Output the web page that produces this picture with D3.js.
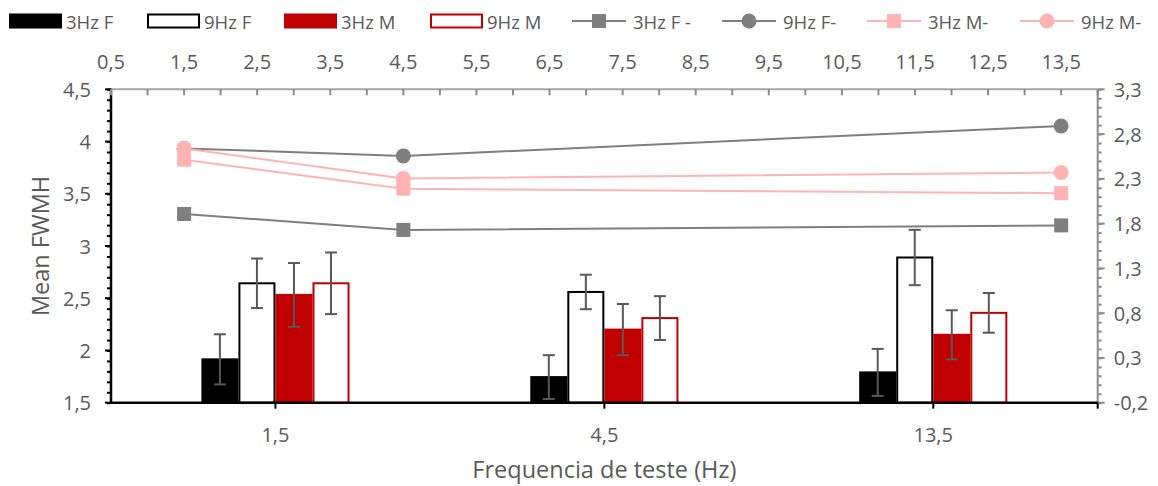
<!DOCTYPE html>
<html>
<head>
<meta charset="utf-8">
<script src="https://cdn.jsdelivr.net/npm/d3@7"></script>
<style>
  body { margin: 0; background: #fff; }
  svg text { font-family: 'Open Sans', sans-serif; fill: #595959; }
</style>
</head>
<body>
<svg id="chart" width="1158" height="486"></svg>
<script>
// ---- data ----
var categories = ['1,5', '4,5', '13,5'];
var freqValues = [1.5, 4.5, 13.5];
var barSeries = ['3Hz F', '9Hz F', '3Hz M', '9Hz M'];

var bar3HzF = [1.915, 1.745, 1.79];
var err3HzF = [0.24, 0.21, 0.225];
var bar9HzF = [2.643, 2.56, 2.89];
var err9HzF = [0.237, 0.165, 0.265];
var bar3HzM = [2.532, 2.20, 2.15];
var err3HzM = [0.305, 0.245, 0.235];
var bar9HzM = [2.643, 2.31, 2.36];
var err9HzM = [0.295, 0.21, 0.19];

var lineSeries = ['3Hz F -', '9Hz F-', '3Hz M-', '9Hz M-'];
var line3HzF = [1.907, 1.73, 1.78];
var line9HzF = [2.64, 2.556, 2.89];
var line3HzM = [2.514, 2.19, 2.14];
var line9HzM = [2.64, 2.305, 2.37];

var leftTicks = [1.5, 2, 2.5, 3, 3.5, 4, 4.5];
var rightTicks = [-0.2, 0.3, 0.8, 1.3, 1.8, 2.3, 2.8, 3.3];
var topTicks = [0.5, 1.5, 2.5, 3.5, 4.5, 5.5, 6.5, 7.5, 8.5, 9.5, 10.5, 11.5, 12.5, 13.5];

// ---- layout ----
var svg = d3.select('#chart');
var plotLeft = 111, plotRight = 1097.7, plotTop = 89.3, plotBottom = 402.7;
var fmt = function(v){ return String(+v.toFixed(1)).replace('.', ','); };

var x0 = d3.scaleBand().domain(categories).range([plotLeft, plotRight]).padding(0);
var x1 = d3.scaleBand().domain(barSeries).range([0, x0.bandwidth()]).paddingInner(0).paddingOuter(2.44);
var xTop = d3.scaleLinear().domain([0.5, 14]).range([plotLeft, plotRight]);
var yLeft = d3.scaleLinear().domain([1.5, 4.5]).range([plotBottom, plotTop]);
var yRight = d3.scaleLinear().domain([-0.2, 3.3]).range([plotBottom, plotTop]);

var barData = [
  { name: '3Hz F', vals: bar3HzF, errs: err3HzF, fill: '#000000', stroke: '#000000' },
  { name: '9Hz F', vals: bar9HzF, errs: err9HzF, fill: '#ffffff', stroke: '#000000' },
  { name: '3Hz M', vals: bar3HzM, errs: err3HzM, fill: '#c00000', stroke: '#c00000' },
  { name: '9Hz M', vals: bar9HzM, errs: err9HzM, fill: '#ffffff', stroke: '#c00000' }
];
var lineData = [
  { name: '3Hz F -', vals: line3HzF, color: '#7f7f7f', marker: 'square' },
  { name: '9Hz F-', vals: line9HzF, color: '#7f7f7f', marker: 'circle' },
  { name: '3Hz M-', vals: line3HzM, color: '#ffb3b3', marker: 'square' },
  { name: '9Hz M-', vals: line9HzM, color: '#ffb3b3', marker: 'circle' }
];

// ---- bars ----
var bars_g = svg.append('g');
barData.forEach(function(s){
  categories.forEach(function(c, i){
    bars_g.append('rect')
      .attr('x', x0(c) + x1(s.name) + 1).attr('y', yLeft(s.vals[i]))
      .attr('width', x1.bandwidth() - 2).attr('height', yLeft(1.5) - yLeft(s.vals[i]))
      .style('fill', s.fill).style('stroke', s.stroke).style('stroke-width', 2);
  });
});

// error bars
var err_g = svg.append('g').style('stroke', '#595959').style('stroke-width', 2);
barData.forEach(function(s){
  categories.forEach(function(c, i){
    var cx = x0(c) + x1(s.name) + x1.bandwidth()/2;
    var hi = yLeft(s.vals[i] + s.errs[i]), lo = yLeft(s.vals[i] - s.errs[i]);
    err_g.append('line').attr('x1', cx).attr('x2', cx).attr('y1', hi).attr('y2', lo);
    err_g.append('line').attr('x1', cx - 6).attr('x2', cx + 6).attr('y1', hi).attr('y2', hi);
    err_g.append('line').attr('x1', cx - 6).attr('x2', cx + 6).attr('y1', lo).attr('y2', lo);
  });
});

// ---- axes ----
// left axis with 0.1 minor ticks
var leftAxis_g = svg.append('g').attr('transform', 'translate(' + plotLeft + ',0)');
leftAxis_g.call(d3.axisLeft(yLeft).tickValues(d3.range(1.5, 4.501, 0.1)).tickSize(4).tickFormat(''));
leftAxis_g.call(function(g){
  g.select('.domain').remove();
  g.selectAll('.tick line').style('stroke', '#000').style('stroke-width', 2);
});
leftAxis_g.append('line').attr('x1', 0).attr('x2', 0).attr('y1', plotTop - 1).attr('y2', plotBottom + 1).style('stroke', '#000').style('stroke-width', 2.5);
leftTicks.forEach(function(v){
  leftAxis_g.append('line').attr('x1', -6).attr('x2', 0).attr('y1', yLeft(v)).attr('y2', yLeft(v)).style('stroke', '#000').style('stroke-width', 2);
  leftAxis_g.append('text').attr('x', -20).attr('y', yLeft(v)).style('font-size', '20px')
    .style('text-anchor', 'end').style('dominant-baseline', 'central').text(fmt(v));
});

// right axis
var rightAxis_g = svg.append('g').attr('transform', 'translate(' + plotRight + ',0)');
rightAxis_g.call(d3.axisRight(yRight).tickValues(d3.range(-0.2, 3.301, 0.1)).tickSize(4).tickFormat(''));
rightAxis_g.call(function(g){
  g.select('.domain').remove();
  g.selectAll('.tick line').style('stroke', '#8c8c8c').style('stroke-width', 2);
});
rightAxis_g.append('line').attr('x1', 0).attr('x2', 0).attr('y1', plotTop).attr('y2', plotBottom).style('stroke', '#8c8c8c').style('stroke-width', 2);
rightTicks.forEach(function(v){
  rightAxis_g.append('line').attr('x1', 0).attr('x2', 7).attr('y1', yRight(v)).attr('y2', yRight(v)).style('stroke', '#8c8c8c').style('stroke-width', 2);
  rightAxis_g.append('text').attr('x', 16).attr('y', yRight(v)).style('font-size', '20px')
    .style('dominant-baseline', 'central').text(fmt(v));
});

// top axis (secondary x)
var topAxis_g = svg.append('g').attr('transform', 'translate(0,' + plotTop + ')');
topAxis_g.append('line').attr('x1', plotLeft).attr('x2', plotRight).attr('y1', 0).attr('y2', 0).style('stroke', '#a6a6a6').style('stroke-width', 2);
d3.range(0.5, 14.01, 0.5).forEach(function(v){
  topAxis_g.append('line').attr('x1', xTop(v)).attr('x2', xTop(v)).attr('y1', 0).attr('y2', 6).style('stroke', '#8c8c8c').style('stroke-width', 2);
});
topTicks.forEach(function(v){
  topAxis_g.append('text').attr('x', xTop(v)).attr('y', -28).style('font-size', '20px')
    .style('text-anchor', 'middle').style('dominant-baseline', 'central').text(fmt(v));
});

// bottom category axis
var bottomAxis_g = svg.append('g').attr('transform', 'translate(0,' + plotBottom + ')');
bottomAxis_g.append('line').attr('x1', plotLeft - 1).attr('x2', plotRight).attr('y1', 0).attr('y2', 0).style('stroke', '#000').style('stroke-width', 2.5);
categories.forEach(function(c){
  var cx = x0(c) + x0.bandwidth()/2;
  bottomAxis_g.append('line').attr('x1', cx).attr('x2', cx).attr('y1', 0).attr('y2', 6).style('stroke', '#000').style('stroke-width', 2);
  bottomAxis_g.append('text').attr('x', cx).attr('y', 32).style('font-size', '20px')
    .style('text-anchor', 'middle').style('dominant-baseline', 'central').text(c);
});
bottomAxis_g.append('line').attr('x1', plotRight).attr('x2', plotRight).attr('y1', 0).attr('y2', 6).style('stroke', '#000').style('stroke-width', 2);

// axis titles
svg.append('text').attr('transform', 'translate(40,' + ((plotTop + plotBottom)/2) + ') rotate(-90)')
  .style('font-size', '23.5px').style('text-anchor', 'middle').style('dominant-baseline', 'central').text('Mean FWMH');
svg.append('text').attr('x', x0('4,5') + x0.bandwidth()/2).attr('y', 469)
  .style('font-size', '23.5px').style('text-anchor', 'middle').style('dominant-baseline', 'central').text('Frequencia de teste (Hz)');

// ---- lines on secondary axes ----
var lines_g = svg.append('g');
var lineGen = d3.line().x(function(d){ return xTop(d[0]); }).y(function(d){ return yRight(d[1]); });
function drawMarker(g, type, cx, cy, color){
  if(type == 'square'){
    g.append('rect').attr('x', cx - 7).attr('y', cy - 7).attr('width', 14).attr('height', 14).style('fill', color);
  } else {
    g.append('circle').attr('cx', cx).attr('cy', cy).attr('r', 7.5).style('fill', color);
  }
}
lineData.forEach(function(s){
  var pts = freqValues.map(function(f, i){ return [f, s.vals[i]]; });
  lines_g.append('path').attr('d', lineGen(pts)).style('fill', 'none').style('stroke', s.color).style('stroke-width', 2);
  pts.forEach(function(p){ drawMarker(lines_g, s.marker, xTop(p[0]), yRight(p[1]), s.color); });
});

// ---- legend ----
var legend_g = svg.append('g').attr('transform', 'translate(0,21)');
var legendX = [9, 147, 284, 430, 572, 722, 867, 1020];
barData.forEach(function(s, i){
  legend_g.append('rect').attr('x', legendX[i] + 1).attr('y', -6.5).attr('width', 51).attr('height', 13)
    .style('fill', s.fill).style('stroke', s.stroke).style('stroke-width', 2);
  legend_g.append('text').attr('x', legendX[i] + 57).attr('y', 0).style('font-size', '18.5px')
    .style('dominant-baseline', 'central').text(s.name);
});
lineData.forEach(function(s, i){
  var lx = legendX[i + 4];
  legend_g.append('line').attr('x1', lx).attr('x2', lx + 54).attr('y1', 0).attr('y2', 0).style('stroke', s.color).style('stroke-width', 2);
  drawMarker(legend_g, s.marker, lx + 27, 0, s.color);
  legend_g.append('text').attr('x', lx + 61).attr('y', 0).style('font-size', '18.5px')
    .style('dominant-baseline', 'central').text(s.name);
});
</script>
</body>
</html>
